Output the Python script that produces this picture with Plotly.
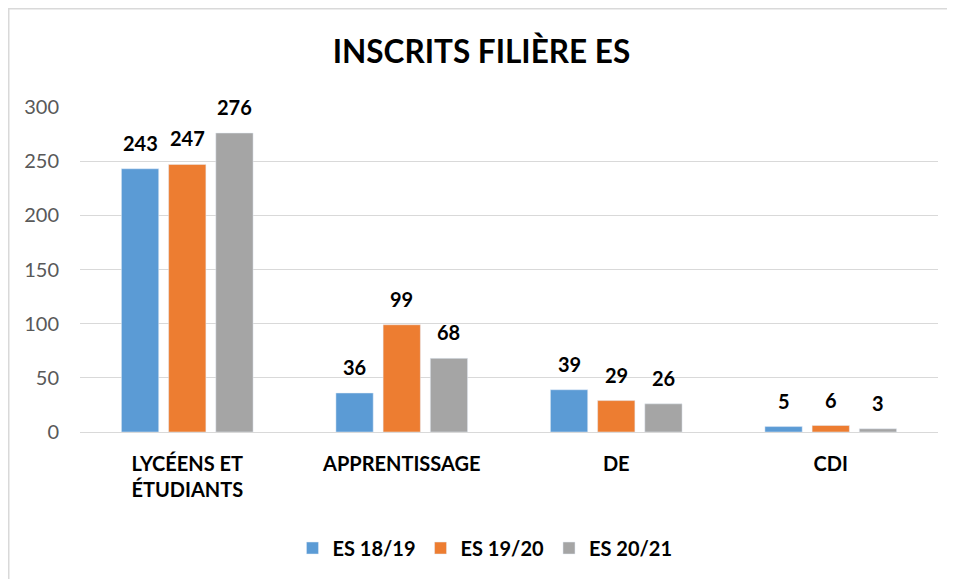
import plotly.graph_objects as go

categories = ["LYCÉENS ET<br>ÉTUDIANTS", "APPRENTISSAGE", "DE", "CDI"]
es_1819 = [243, 36, 39, 5]
es_1920 = [247, 99, 29, 6]
es_2021 = [276, 68, 26, 3]

series = [
    ("ES 18/19", es_1819, "#5B9BD5"),
    ("ES 19/20", es_1920, "#ED7D31"),
    ("ES 20/21", es_2021, "#A5A5A5"),
]

font_name = "Lato, Open Sans, sans-serif"
W, H = 947, 571          # page body adds an 8px offset
L, R, T, B = 72, 17, 99, 147
plot_w = W - L - R
bargap = 0.34
slot = (1 - bargap) * plot_w / len(categories) / len(series)

fig = go.Figure()
for i, (name, vals, color) in enumerate(series):
    fig.add_trace(go.Bar(x=categories, y=vals, name=name, marker_color=color))
    # value labels sit higher above the bars than plotly's "outside" text
    for cat, v in zip(categories, vals):
        fig.add_annotation(x=cat, y=v, text=f"<b>{v}</b>", showarrow=False,
                           xshift=(i - 1) * slot, yshift=26, yanchor="middle",
                           font=dict(family=font_name, size=20, color="#000000"))

fig.update_layout(
    width=W, height=H,
    margin=dict(l=L, r=R, t=T, b=B),
    paper_bgcolor="white", plot_bgcolor="white",
    font=dict(family=font_name),
    barmode="group", bargap=bargap, bargroupgap=0.21,
    title=dict(text="<b>INSCRITS FILIÈRE ES</b>", x=0.5, xanchor="center",
               y=1 - 44 / H, yanchor="middle",
               font=dict(size=31.5, color="#000000", family=font_name)),
    legend=dict(orientation="h", x=0.472, xanchor="center", y=-0.357, yanchor="middle",
                font=dict(size=20, color="#000000", family=font_name, weight="bold"),
                itemwidth=30, traceorder="normal"),
    showlegend=True,
)
fig.update_yaxes(range=[0, 300], dtick=50, showgrid=True, gridcolor="#D9D9D9", gridwidth=1.3,
                 zeroline=False, showline=False, ticks="", ticklabelstandoff=20,
                 tickfont=dict(size=20, color="#595959", family=font_name))
fig.update_xaxes(showline=True, linecolor="#D9D9D9", linewidth=1.3, ticks="",
                 ticklabelstandoff=14,
                 tickfont=dict(size=20, color="#000000", family=font_name, weight="bold"))

# light outer border of the chart area
fig.add_shape(type="rect", xref="paper", yref="paper",
              x0=(0.75 - L) / plot_w, x1=(W + 10 - L) / plot_w,
              y0=(H - B - H - 10) / (H - T - B), y1=(H - B - 0.75) / (H - T - B),
              line=dict(color="#D9D9D9", width=1.5))

fig.write_html("out.html")
